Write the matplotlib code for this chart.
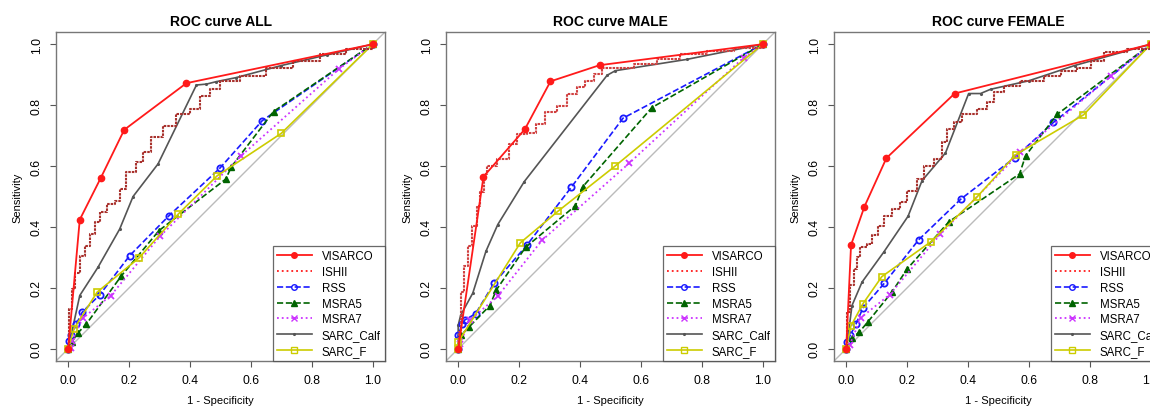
import matplotlib
matplotlib.use('Agg')
import matplotlib.pyplot as plt
from matplotlib.lines import Line2D

plt.rcParams['font.family'] = ['Liberation Sans', 'DejaVu Sans']

titles = ['ROC curve ALL', 'ROC curve MALE', 'ROC curve FEMALE']
labels = ['VISARCO', 'ISHII', 'RSS', 'MSRA5', 'MSRA7', 'SARC_Calf', 'SARC_F']

# ---- ALL ----
all_visarco_x = [0, 0.038, 0.107, 0.184, 0.388, 1]
all_visarco_y = [0, 0.424, 0.561, 0.719, 0.872, 1]
all_ishii_x = [0, 0.003, 0.011, 0.022, 0.038, 0.055, 0.071, 0.087, 0.104, 0.126, 0.153, 0.169,
               0.191, 0.224, 0.246, 0.273, 0.311, 0.355, 0.399, 0.432, 0.464, 0.497, 0.563,
               0.650, 0.738, 0.825, 0.913, 1]
all_ishii_y = [0, 0.13, 0.197, 0.25, 0.306, 0.339, 0.377, 0.415, 0.448, 0.475, 0.486, 0.525,
               0.579, 0.612, 0.645, 0.694, 0.732, 0.77, 0.787, 0.831, 0.852, 0.880, 0.896,
               0.923, 0.945, 0.967, 0.984, 1]
all_rss_x = [0, 0.002, 0.009, 0.027, 0.046, 0.104, 0.202, 0.331, 0.497, 0.637, 1]
all_rss_y = [0, 0.027, 0.046, 0.082, 0.12, 0.178, 0.306, 0.437, 0.592, 0.749, 1]
all_msra5_x = [0, 0.011, 0.031, 0.06, 0.175, 0.298, 0.517, 0.536, 0.674, 1]
all_msra5_y = [0, 0.022, 0.051, 0.082, 0.240, 0.388, 0.557, 0.598, 0.779, 1]
all_msra7_x = [0, 0.008, 0.014, 0.047, 0.14, 0.301, 0.568, 0.889, 1]
all_msra7_y = [0, 0.003, 0.027, 0.1, 0.175, 0.369, 0.634, 0.919, 1]
all_calf_x = [0, 0.038, 0.098, 0.169, 0.213, 0.295, 0.421, 0.454, 0.486, 0.55, 0.70, 0.85, 1]
all_calf_y = [0, 0.175, 0.268, 0.393, 0.5, 0.607, 0.866, 0.869, 0.877, 0.89, 0.93, 0.965, 1]
all_sarcf_x = [0, 0.019, 0.095, 0.232, 0.362, 0.489, 0.699, 1]
all_sarcf_y = [0, 0.066, 0.186, 0.298, 0.443, 0.568, 0.707, 1]

# ---- MALE ----
male_visarco_x = [0, 0.083, 0.219, 0.303, 0.464, 1]
male_visarco_y = [0, 0.565, 0.721, 0.878, 0.931, 1]
male_ishii_x = [0, 0.003, 0.008, 0.019, 0.032, 0.046, 0.062, 0.071, 0.086, 0.095, 0.128, 0.166,
                0.193, 0.226, 0.254, 0.286, 0.325, 0.357, 0.39, 0.417, 0.445, 0.472, 0.510,
                0.576, 0.652, 0.729, 0.816, 0.904, 1]
male_ishii_y = [0, 0.055, 0.186, 0.273, 0.339, 0.404, 0.47, 0.514, 0.574, 0.601, 0.623, 0.672,
                0.705, 0.710, 0.738, 0.776, 0.798, 0.836, 0.858, 0.880, 0.902, 0.921, 0.923,
                0.934, 0.951, 0.967, 0.978, 0.989, 1]
male_rss_x = [0, 0.0, 0.013, 0.022, 0.057, 0.118, 0.226, 0.371, 0.541, 1]
male_rss_y = [0, 0.044, 0.082, 0.095, 0.115, 0.216, 0.341, 0.53, 0.757, 1]
male_msra5_x = [0, 0.01, 0.035, 0.104, 0.125, 0.221, 0.385, 0.409, 0.636, 1]
male_msra5_y = [0, 0.045, 0.071, 0.142, 0.193, 0.333, 0.47, 0.532, 0.792, 1]
male_msra7_x = [0, 0.005, 0.04, 0.131, 0.275, 0.561, 0.937, 1]
male_msra7_y = [0, 0.016, 0.095, 0.174, 0.356, 0.609, 0.956, 1]
male_calf_x = [0, 0.0, 0.008, 0.048, 0.091, 0.13, 0.217, 0.489, 0.516, 0.75, 1]
male_calf_y = [0, 0.077, 0.11, 0.183, 0.32, 0.408, 0.549, 0.898, 0.913, 0.95, 1]
male_sarcf_x = [0, 0.0, 0.204, 0.328, 0.514, 1]
male_sarcf_y = [0, 0.022, 0.348, 0.452, 0.599, 1]

# ---- FEMALE ----
fem_visarco_x = [0, 0.016, 0.06, 0.132, 0.356, 1]
fem_visarco_y = [0, 0.341, 0.467, 0.626, 0.838, 1]
fem_ishii_x = [0, 0.004, 0.013, 0.027, 0.037, 0.046, 0.068, 0.084, 0.106, 0.125, 0.150, 0.178,
               0.2, 0.232, 0.254, 0.287, 0.315, 0.331, 0.353, 0.38, 0.43, 0.463, 0.485, 0.518,
               0.572, 0.649, 0.704, 0.759, 0.803, 0.846, 0.923, 1]
fem_ishii_y = [0, 0.12, 0.208, 0.262, 0.3, 0.333, 0.344, 0.372, 0.404, 0.437, 0.459, 0.481,
               0.519, 0.557, 0.601, 0.623, 0.678, 0.721, 0.743, 0.770, 0.787, 0.809, 0.842, 0.863,
               0.880, 0.896, 0.913, 0.923, 0.945, 0.973, 0.984, 1]
fem_rss_x = [0, 0.004, 0.013, 0.032, 0.055, 0.125, 0.238, 0.377, 0.554, 0.68, 1]
fem_rss_y = [0, 0.022, 0.044, 0.081, 0.134, 0.215, 0.358, 0.492, 0.628, 0.743, 1]
fem_msra5_x = [0, 0.019, 0.043, 0.07, 0.15, 0.2, 0.337, 0.569, 0.589, 0.693, 1]
fem_msra5_y = [0, 0.035, 0.055, 0.087, 0.186, 0.262, 0.417, 0.574, 0.634, 0.770, 1]
fem_msra7_x = [0, 0.011, 0.048, 0.143, 0.309, 0.572, 0.868, 1]
fem_msra7_y = [0, 0.011, 0.102, 0.178, 0.376, 0.645, 0.894, 1]
fem_calf_x = [0, 0.008, 0.019, 0.052, 0.123, 0.203, 0.249, 0.326, 0.402, 0.441, 0.474, 0.6, 0.75, 1]
fem_calf_y = [0, 0.055, 0.142, 0.219, 0.317, 0.435, 0.552, 0.643, 0.838, 0.838, 0.852, 0.88, 0.93, 1]
fem_sarcf_x = [0, 0.015, 0.055, 0.117, 0.279, 0.428, 0.556, 0.779, 1]
fem_sarcf_y = [0, 0.074, 0.148, 0.237, 0.352, 0.497, 0.637, 0.768, 1]

panels = [
    (all_visarco_x, all_visarco_y, all_ishii_x, all_ishii_y, all_rss_x, all_rss_y,
     all_msra5_x, all_msra5_y, all_msra7_x, all_msra7_y, all_calf_x, all_calf_y,
     all_sarcf_x, all_sarcf_y),
    (male_visarco_x, male_visarco_y, male_ishii_x, male_ishii_y, male_rss_x, male_rss_y,
     male_msra5_x, male_msra5_y, male_msra7_x, male_msra7_y, male_calf_x, male_calf_y,
     male_sarcf_x, male_sarcf_y),
    (fem_visarco_x, fem_visarco_y, fem_ishii_x, fem_ishii_y, fem_rss_x, fem_rss_y,
     fem_msra5_x, fem_msra5_y, fem_msra7_x, fem_msra7_y, fem_calf_x, fem_calf_y,
     fem_sarcf_x, fem_sarcf_y),
]
# ISHII: dense dotted steps look dark red in ALL/FEMALE, lighter in MALE
ishii_cols = ['#a8302c', '#d04040', '#a8302c']

W, H = 1150, 410
fig = plt.figure(figsize=(W / 100, H / 100), dpi=100)
lefts = [56, 446, 834]
box = 329

ticks = [0, 0.2, 0.4, 0.6, 0.8, 1.0]
tick_labels = ['0.0', '0.2', '0.4', '0.6', '0.8', '1.0']

for i, p in enumerate(panels):
    vx, vy, ix, iy, rx, ry, m5x, m5y, m7x, m7y, cx, cy, fx, fy = p
    ax = fig.add_axes([lefts[i] / W, 48 / H, box / W, box / H])
    ax.set_xlim(-0.04, 1.04)
    ax.set_ylim(-0.04, 1.04)
    ax.axline((0, 0), (1, 1), color='#bbbbbb', lw=1, zorder=1)

    ax.plot(vx, vy, '-o', color='#ff1a1a', lw=1.3, ms=4.5, zorder=6)
    ax.step(ix, iy, where='post', color=ishii_cols[i], lw=1.5, ls=(0, (1.2, 0.5)), zorder=5)
    ax.plot(rx, ry, '--o', color='#1a1aff', lw=1.2, ms=4.5, mfc='none', mew=1.3, zorder=4)
    ax.plot(m5x, m5y, '--^', color='#006400', lw=1.2, ms=4.5, zorder=4)
    ax.plot(m7x, m7y, ':x', color='#cc33ff', lw=1.3, ms=5, mew=1.3, zorder=4)
    ax.plot(cx, cy, '-', color='#555555', lw=1.2, marker='.', ms=2.5, zorder=3)
    ax.plot(fx, fy, '-s', color='#cccc00', lw=1.2, ms=5, mfc='none', mew=1.2, zorder=4)

    ax.set_title(titles[i], fontsize=10, fontweight='bold', pad=5)
    ax.set_xlabel('1 - Specificity', fontsize=8, labelpad=6)
    ax.set_ylabel('Sensitivity', fontsize=8, labelpad=6)
    ax.set_xticks(ticks)
    ax.set_xticklabels(tick_labels)
    ax.set_yticks(ticks)
    ax.set_yticklabels(tick_labels, rotation=90, va='center')
    ax.tick_params(direction='out', length=4.5, width=0.8, color='#555555',
                   labelsize=8.7, pad=5)
    for s in ax.spines.values():
        s.set_color('#777777')
        s.set_linewidth(1)

    handles = [
        Line2D([], [], color='#ff1a1a', lw=1.3, marker='o', ms=4),
        Line2D([], [], color='#ff1a1a', lw=1.3, ls=':'),
        Line2D([], [], color='#1a1aff', lw=1.2, ls='--', marker='o', ms=4, mfc='none'),
        Line2D([], [], color='#006400', lw=1.2, ls='--', marker='^', ms=4),
        Line2D([], [], color='#cc33ff', lw=1.3, ls=':', marker='x', ms=4.5),
        Line2D([], [], color='#555555', lw=1.2, marker='.', ms=2.5),
        Line2D([], [], color='#cccc00', lw=1.2, marker='s', ms=4, mfc='none'),
    ]
    leg = ax.legend(handles, labels, loc='lower right', fontsize=8.3, frameon=True,
                    fancybox=False, borderaxespad=0, handlelength=3.0,
                    handletextpad=0.9, labelspacing=0.33, borderpad=0.35)
    leg.get_frame().set_edgecolor('#444444')
    leg.get_frame().set_linewidth(0.9)

fig.savefig('out.png', dpi=100)
